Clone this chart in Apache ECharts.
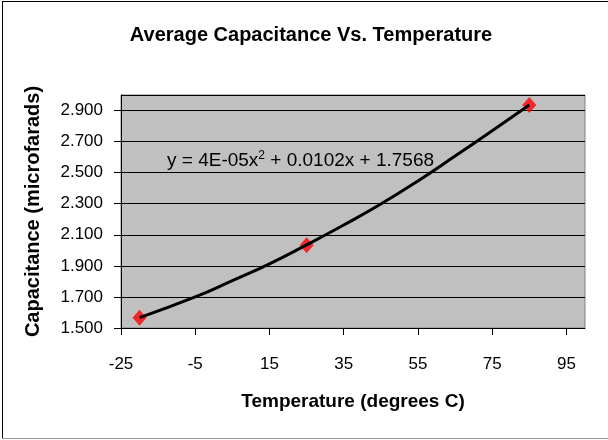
<!DOCTYPE html>
<html>
<head>
<meta charset="utf-8">
<script src="https://cdn.jsdelivr.net/npm/echarts@6/dist/echarts.min.js"></script>
<style>
  html, body { margin: 0; padding: 0; background: #fff; }
  #chart { width: 608px; height: 440px; }
</style>
</head>
<body>
<div id="chart"></div>
<script>
// measured points (temperature C, capacitance uF)
var tempPoints = [-20, 25, 85]
var capPoints = [1.566, 2.032, 2.935]
// trendline
var trendTemps = [-20, -5, 5, 15, 25, 35, 45, 55, 65, 75, 85]
var trendCaps = [1.567, 1.70, 1.805, 1.913, 2.035, 2.163, 2.298, 2.447, 2.607, 2.77, 2.935]
var equationText = 'y = 4E-05x{sup|2} + 0.0102x + 1.7568'

var font = '"Liberation Sans", Arial, sans-serif'
var chart = echarts.init(document.getElementById('chart'))

chart.setOption({
  animation: false,
  title: {
    text: 'Average Capacitance Vs. Temperature',
    left: 306,
    top: 20,
    textAlign: 'center',
    textStyle: { fontFamily: font, fontSize: 20, fontWeight: 'bold', color: '#000' }
  },
  grid: {
    left: 121,
    right: 23,
    top: 95,
    bottom: 112,
    show: true,
    backgroundColor: '#c0c0c0',
    borderColor: '#808080',
    borderWidth: 1
  },
  xAxis: {
    type: 'value',
    min: -25,
    max: 100,
    interval: 20,
    name: 'Temperature (degrees C)',
    nameLocation: 'middle',
    nameGap: 64,
    nameTextStyle: { fontFamily: font, fontSize: 19, fontWeight: 'bold', color: '#000' },
    axisLine: { show: true, onZero: false, lineStyle: { color: '#000', width: 1 } },
    axisTick: { show: true, length: 7, lineStyle: { color: '#000' } },
    axisLabel: {
      fontFamily: font, fontSize: 17, color: '#000', margin: 28,
      showMaxLabel: false,
      formatter: function(v) { return v === 100 ? '' : String(v) }
    },
    splitLine: { show: false }
  },
  yAxis: {
    type: 'value',
    min: 1.5,
    max: 3.0,
    interval: 0.2,
    name: 'Capacitance (microfarads)',
    nameLocation: 'middle',
    nameGap: 78,
    nameTextStyle: { fontFamily: font, fontSize: 20, fontWeight: 'bold', color: '#000' },
    axisLine: { show: true, onZero: false, lineStyle: { color: '#000', width: 1 } },
    axisTick: { show: true, length: 7, lineStyle: { color: '#000' } },
    axisLabel: {
      fontFamily: font, fontSize: 17, color: '#000', margin: 18,
      showMaxLabel: false,
      formatter: function(v) { return v > 2.95 ? '' : v.toFixed(3) }
    },
    splitLine: { show: true, lineStyle: { color: '#000', width: 1 } }
  },
  series: [
    {
      name: 'trend',
      type: 'line',
      data: trendTemps.map(function(t, i) { return [t, trendCaps[i]] }),
      smooth: true,
      symbol: 'none',
      lineStyle: { color: '#000', width: 3 },
      z: 3
    },
    {
      name: 'average',
      type: 'scatter',
      data: tempPoints.map(function(t, i) { return [t, capPoints[i]] }),
      symbol: 'diamond',
      symbolSize: [14, 16],
      itemStyle: { color: '#ff0000' },
      z: 2
    }
  ],
  graphic: [
    {
      type: 'text',
      left: 167,
      top: 150,
      z: 10,
      style: {
        text: equationText,
        fontFamily: font,
        fontSize: 19,
        fill: '#000',
        rich: {
          sup: { fontFamily: font, fontSize: 12, verticalAlign: 'top', padding: [0, 0, 10, 0] }
        }
      }
    },
    { type: 'line', shape: { x1: 2, y1: 1.5, x2: 608, y2: 1.5 }, style: { stroke: '#000', lineWidth: 1 } },
    { type: 'line', shape: { x1: 2.5, y1: 1, x2: 2.5, y2: 439 }, style: { stroke: '#000', lineWidth: 1 } },
    { type: 'line', shape: { x1: 2, y1: 438.5, x2: 608, y2: 438.5 }, style: { stroke: '#999', lineWidth: 1 } }
  ]
})
</script>
</body>
</html>
